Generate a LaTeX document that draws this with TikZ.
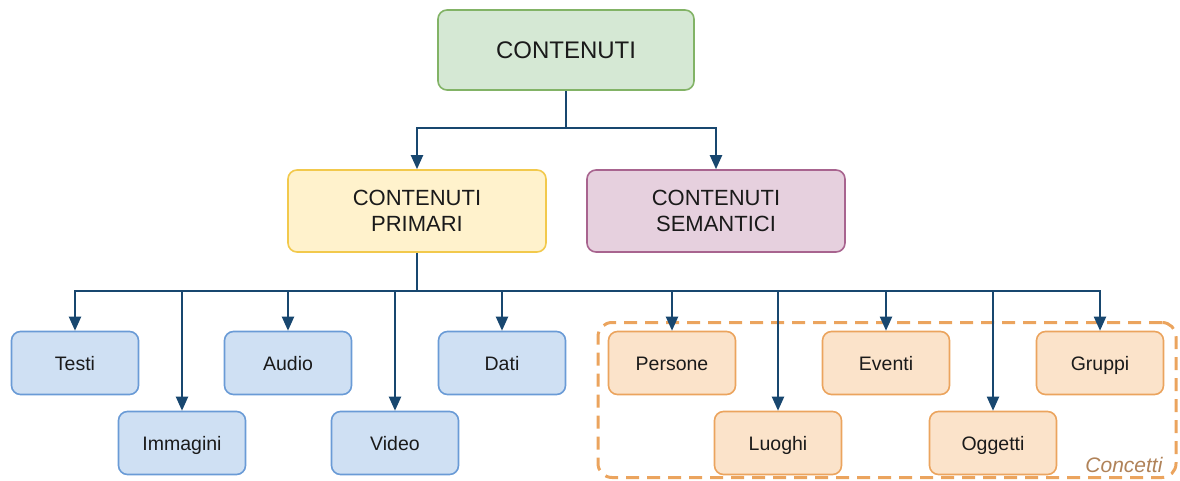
\documentclass[tikz,border=0pt]{standalone}
\usepackage{fontspec}
\setmainfont{Liberation Sans}
\usetikzlibrary{arrows.meta}
\definecolor{greenfill}{HTML}{D5E8D4}
\definecolor{greenline}{HTML}{82B366}
\definecolor{yellowfill}{HTML}{FFF2CC}
\definecolor{yellowline}{HTML}{F2C94C}
\definecolor{pinkfill}{HTML}{E6D0DE}
\definecolor{pinkline}{HTML}{A8648F}
\definecolor{bluefill}{HTML}{CFE0F3}
\definecolor{blueline}{HTML}{6A9BD6}
\definecolor{orangefill}{HTML}{FBE3CA}
\definecolor{orangeline}{HTML}{EBA45E}
\definecolor{linkcol}{HTML}{18476F}
\definecolor{grouplabel}{HTML}{B08258}
\definecolor{textcol}{HTML}{1A1A1A}
\begin{document}
\begin{tikzpicture}[x=1pt,y=-1pt,
  box/.style={draw, line width=1.6pt, rounded corners=9pt, align=center,
    text=textcol, inner sep=0pt},
  topbox/.style={box, fill=greenfill, draw=greenline, minimum width=256pt,
    minimum height=80pt, font=\fontsize{24}{28}\selectfont},
  midbox/.style={box, minimum width=258pt, minimum height=82pt,
    font=\fontsize{22}{26}\selectfont},
  leafbox/.style={box, minimum width=127pt, minimum height=63pt,
    text height=16pt, text depth=2pt, font=\fontsize{19.5}{23}\selectfont},
  bleaf/.style={leafbox, fill=bluefill, draw=blueline},
  oleaf/.style={leafbox, fill=orangefill, draw=orangeline},
  link/.style={draw=linkcol, line width=2pt},
  arrow/.style={link, -{Triangle[length=14pt,width=12pt]}}]
\useasboundingbox (0,0) rectangle (1180,481);

% group frame for the concepts
\node[draw=orangeline, line width=3pt, dash pattern=on 13pt off 8pt,
  rounded corners=14pt, minimum width=578pt, minimum height=155pt,
  inner sep=0pt] (group) at (887,400) {};
\node[font=\itshape\fontsize{21}{25}\selectfont, text=grouplabel,
  anchor=south east] (grouplab) at (1166,476) {Concetti};

% hierarchy boxes
\node[topbox] (root) at (566,50) {CONTENUTI};
\node[midbox, fill=yellowfill, draw=yellowline] (prim) at (417,211)
  {CONTENUTI\\PRIMARI};
\node[midbox, fill=pinkfill, draw=pinkline] (sem) at (716,211)
  {CONTENUTI\\SEMANTICI};

\node[bleaf] (testi) at (75,363) {Testi};
\node[bleaf] (imm) at (182,443) {Immagini};
\node[bleaf] (audio) at (288,363) {Audio};
\node[bleaf] (video) at (395,443) {Video};
\node[bleaf] (dati) at (502,363) {Dati};

\node[oleaf] (pers) at (672,363) {Persone};
\node[oleaf] (luoghi) at (778,443) {Luoghi};
\node[oleaf] (eventi) at (886,363) {Eventi};
\node[oleaf] (ogg) at (993,443) {Oggetti};
\node[oleaf] (gruppi) at (1100,363) {Gruppi};

% bus coordinates
\coordinate (bus1) at (566,128);
\coordinate (bus2) at (417,291);

% root to second level
\draw[link] (root.south) -- (bus1);
\draw[arrow] (bus1) -| (prim.north);
\draw[arrow] (bus1) -| (sem.north);

% second level to leaves
\draw[link] (prim.south) -- (bus2);
\foreach \n in {testi,imm,audio,video,dati,pers,luoghi,eventi,ogg,gruppi}
  \draw[arrow] (bus2) -| (\n.north);
\end{tikzpicture}
\end{document}
